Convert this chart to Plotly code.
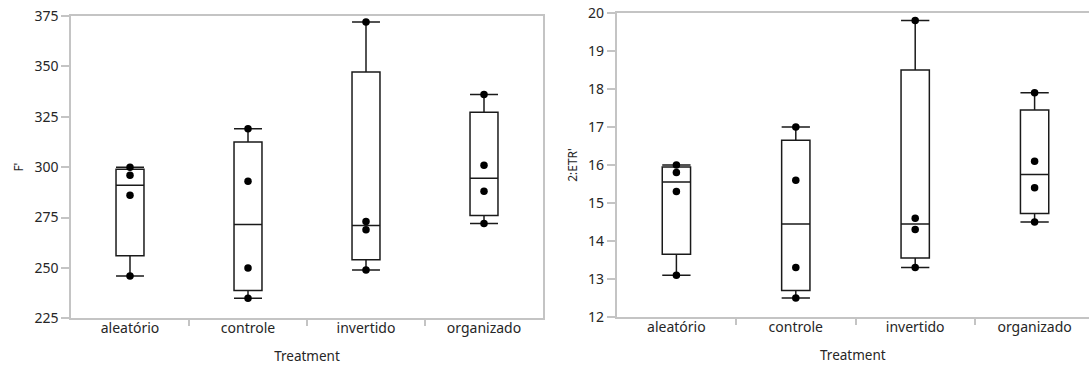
import numpy as np
import plotly.graph_objects as go

# ---- data ----
categories = ["aleatório", "controle", "invertido", "organizado"]

f_aleatorio = [246, 286, 296, 300]
f_controle = [235, 250, 293, 319]
f_invertido = [249, 269, 273, 372]
f_organizado = [272, 288, 301, 336]

etr_aleatorio = [13.1, 15.3, 15.8, 16.0]
etr_controle = [12.5, 13.3, 15.6, 17.0]
etr_invertido = [13.3, 14.3, 14.6, 19.8]
etr_organizado = [14.5, 15.4, 16.1, 17.9]

f_ticks = [225, 250, 275, 300, 325, 350, 375]
etr_ticks = [12, 13, 14, 15, 16, 17, 18, 19, 20]

f_groups = [f_aleatorio, f_controle, f_invertido, f_organizado]
etr_groups = [etr_aleatorio, etr_controle, etr_invertido, etr_organizado]

FRAME = "#c4c4c4"
INK = "#1a1a1a"
TXT = "#262626"
FONT = "Noto Sans"


def box_stats(v):
    v = np.asarray(v, dtype=float)
    q1, med, q3 = np.percentile(v, [25, 50, 75], method="weibull")
    iqr = q3 - q1
    lo = v[v >= q1 - 1.5 * iqr].min()
    hi = v[v <= q3 + 1.5 * iqr].max()
    return q1, med, q3, lo, hi


fig = go.Figure()


def add_panel(groups, xa, ya):
    for i, vals in enumerate(groups):
        q1, med, q3, lo, hi = box_stats(vals)
        fig.add_trace(go.Box(
            x=[i], q1=[q1], median=[med], q3=[q3],
            lowerfence=[lo], upperfence=[hi],
            width=0.237, whiskerwidth=1,
            line=dict(color=INK, width=1.5), fillcolor="rgba(255,255,255,0)",
            xaxis=xa, yaxis=ya, showlegend=False, hoverinfo="skip",
        ))
        fig.add_trace(go.Scatter(
            x=[i] * len(vals), y=vals, mode="markers",
            marker=dict(color="black", size=7.5),
            xaxis=xa, yaxis=ya, showlegend=False, hoverinfo="skip",
        ))


add_panel(f_groups, "x", "y")
add_panel(etr_groups, "x2", "y2")


def xaxis_cfg(domain, rng, anchor):
    return dict(
        domain=domain, range=rng, anchor=anchor,
        tickmode="array", tickvals=list(range(len(categories))), ticktext=categories,
        ticks="", showgrid=False, zeroline=False,
        showline=True, linecolor=FRAME, linewidth=1.5, mirror=True,
        tickfont=dict(family=FONT, size=14, color=TXT),
        ticklabelstandoff=-4,
        minor=dict(tickmode="array", tickvals=[0.5, 1.5, 2.5], ticks="outside",
                   ticklen=6, tickwidth=1.5, tickcolor=FRAME, showgrid=False),
        title=dict(text="Treatment", font=dict(family=FONT, size=13.5, color=TXT), standoff=16),
        automargin=False,
    )


def yaxis_cfg(domain, rng, ticks, title, anchor, mirror):
    return dict(
        domain=domain, range=rng, anchor=anchor,
        tickmode="array", tickvals=ticks,
        ticks="outside", ticklen=8, tickwidth=1.5, tickcolor=FRAME,
        showgrid=False, zeroline=False,
        showline=True, linecolor=FRAME, linewidth=1.5, mirror=mirror,
        tickfont=dict(family=FONT, size=14, color=TXT),
        title=dict(text=title, font=dict(family=FONT, size=12, color=TXT), standoff=8),
        automargin=False,
    )


W, H = 1089, 367
fig.update_layout(
    width=W, height=H,
    margin=dict(l=0, r=0, t=0, b=0),
    paper_bgcolor="white", plot_bgcolor="white",
    boxmode="overlay",
    xaxis=xaxis_cfg([71 / W, 543 / W], [-0.5, 3.5], "y"),
    yaxis=yaxis_cfg([1 - 318.3 / H, 1 - 16 / H], [225, 375], f_ticks, "F'", "x", True),
    xaxis2=xaxis_cfg([616.7 / W, 1.0], [-0.5, -0.5 + (W - 616.7) / 119.4], "y2"),
    yaxis2=yaxis_cfg([1 - 317 / H, 1 - 13 / H], [12, 20], etr_ticks, "2:ETR'", "x2", False),
)

fig.write_html(
    "out.html",
    config={"displayModeBar": False},
    post_script="document.body.style.margin='0';document.body.style.overflow='hidden';",
)
